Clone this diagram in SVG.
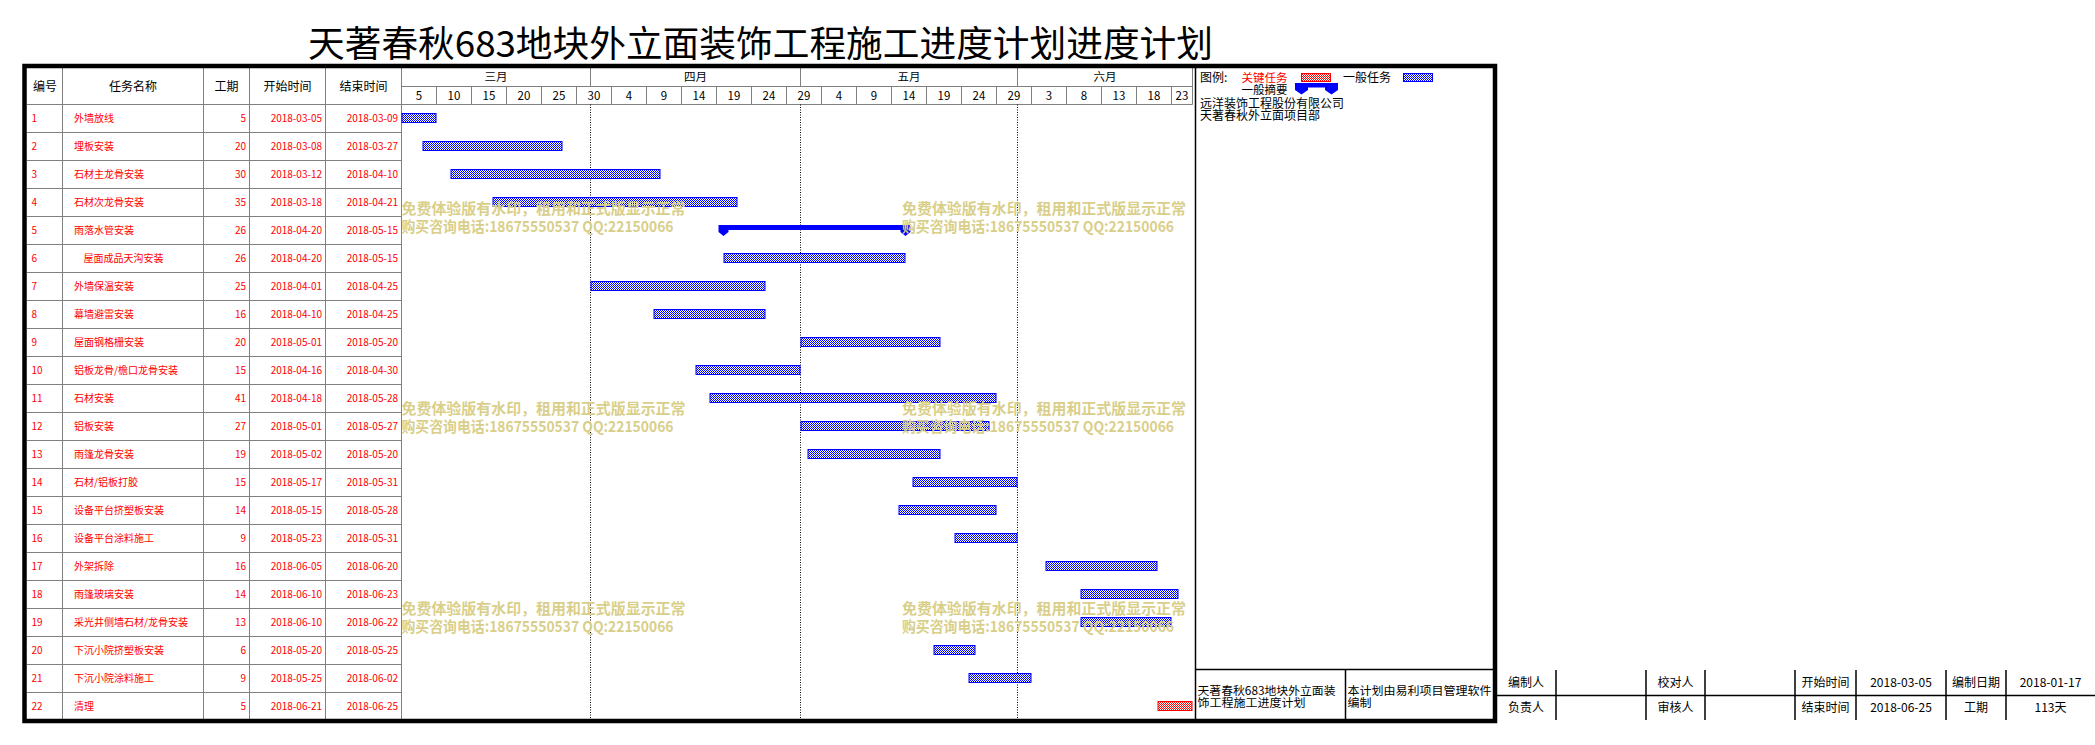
<svg xmlns="http://www.w3.org/2000/svg" width="2095" height="745" viewBox="0 0 2095 745">
<style>
text{font-family:"Noto Sans CJK SC","Liberation Sans",sans-serif;}
.hd{font-size:12px;fill:#000;text-anchor:middle;}
.sc{font-size:11.5px;fill:#000;text-anchor:middle;}
.r{font-size:10px;fill:#f00;}
.re{font-size:10px;fill:#f00;text-anchor:end;}
.g{stroke:#808080;stroke-width:1;fill:none;}
.k{stroke:#000;stroke-width:1.5;fill:none;}
.dot{stroke:#000;stroke-width:1;stroke-dasharray:1,1.5;fill:none;}
.bar{fill:url(#pb);stroke:#00f;stroke-width:1;}
.crit{fill:url(#pr);stroke:#f00;stroke-width:1;}
.lg{font-size:12px;fill:#000;}
.lg2{font-size:11.5px;fill:#000;}
.wm{font-size:15px;font-weight:bold;fill:#D9CF8A;}
.st{font-size:12px;fill:#000;text-anchor:middle;}
</style>
<defs>
<pattern id="pb" width="2" height="2" patternUnits="userSpaceOnUse"><rect width="2" height="2" fill="#fff"/><rect width="1" height="1" fill="#00f"/><rect x="1" y="1" width="1" height="1" fill="#00f"/></pattern>
<pattern id="pr" width="2" height="2" patternUnits="userSpaceOnUse"><rect width="2" height="2" fill="#fff"/><rect width="1" height="1" fill="#f00"/><rect x="1" y="1" width="1" height="1" fill="#f00"/></pattern>
</defs>
<rect width="2095" height="745" fill="#fff"/>

<g id="title"><text x="308" y="57" font-size="36" textLength="905" lengthAdjust="spacingAndGlyphs" fill="#000">天著春秋683地块外立面装饰工程施工进度计划进度计划</text></g>

<g id="grid">
<path class="g" d="M62.5,68V720M203.5,68V720M249.5,68V720M325.5,68V720M401.5,68V720M1192.5,68V104.5"/>
<path class="g" d="M401.5,86.5H1192.5M27,104.5H1192.5"/>
<path class="g" d="M27,132.5H401.5M27,160.5H401.5M27,188.5H401.5M27,216.5H401.5M27,244.5H401.5M27,272.5H401.5M27,300.5H401.5M27,328.5H401.5M27,356.5H401.5M27,384.5H401.5M27,412.5H401.5M27,440.5H401.5M27,468.5H401.5M27,496.5H401.5M27,524.5H401.5M27,552.5H401.5M27,580.5H401.5M27,608.5H401.5M27,636.5H401.5M27,664.5H401.5M27,692.5H401.5M27,719.5H401.5"/>
<path class="g" d="M590.5,68V86.5M800.5,68V86.5M1017.5,68V86.5"/>
<path class="g" d="M436.5,86.5V104.5M471.5,86.5V104.5M506.5,86.5V104.5M541.5,86.5V104.5M576.5,86.5V104.5M611.5,86.5V104.5M646.5,86.5V104.5M681.5,86.5V104.5M716.5,86.5V104.5M751.5,86.5V104.5M786.5,86.5V104.5M821.5,86.5V104.5M856.5,86.5V104.5M891.5,86.5V104.5M926.5,86.5V104.5M961.5,86.5V104.5M996.5,86.5V104.5M1031.5,86.5V104.5M1066.5,86.5V104.5M1101.5,86.5V104.5M1136.5,86.5V104.5M1171.5,86.5V104.5"/>
<path class="dot" d="M590.5,104.5V719M800.5,104.5V719M1017.5,104.5V719"/>
</g>

<g id="header">
<text class="hd" x="45" y="91">编号</text>
<text class="hd" x="133" y="91">任务名称</text>
<text class="hd" x="226.5" y="91">工期</text>
<text class="hd" x="287.5" y="91">开始时间</text>
<text class="hd" x="363.5" y="91">结束时间</text>
<text class="sc" x="496" y="81">三月</text>
<text class="sc" x="695.5" y="81">四月</text>
<text class="sc" x="909" y="81">五月</text>
<text class="sc" x="1105" y="81">六月</text>
<text class="sc" x="419" y="99.5">5</text>
<text class="sc" x="454" y="99.5">10</text>
<text class="sc" x="489" y="99.5">15</text>
<text class="sc" x="524" y="99.5">20</text>
<text class="sc" x="559" y="99.5">25</text>
<text class="sc" x="594" y="99.5">30</text>
<text class="sc" x="629" y="99.5">4</text>
<text class="sc" x="664" y="99.5">9</text>
<text class="sc" x="699" y="99.5">14</text>
<text class="sc" x="734" y="99.5">19</text>
<text class="sc" x="769" y="99.5">24</text>
<text class="sc" x="804" y="99.5">29</text>
<text class="sc" x="839" y="99.5">4</text>
<text class="sc" x="874" y="99.5">9</text>
<text class="sc" x="909" y="99.5">14</text>
<text class="sc" x="944" y="99.5">19</text>
<text class="sc" x="979" y="99.5">24</text>
<text class="sc" x="1014" y="99.5">29</text>
<text class="sc" x="1049" y="99.5">3</text>
<text class="sc" x="1084" y="99.5">8</text>
<text class="sc" x="1119" y="99.5">13</text>
<text class="sc" x="1154" y="99.5">18</text>
<text class="sc" x="1182" y="99.5">23</text>
</g>

<g id="row-1"><text class="r" x="31.5" y="122">1</text><text class="r" x="74" y="122">外墙放线</text><text class="re" x="246" y="122">5</text><text class="re" x="322" y="122">2018-03-05</text><text class="re" x="398" y="122">2018-03-09</text><rect class="bar" x="402" y="113.5" width="34" height="9"/></g>
<g id="row-2"><text class="r" x="31.5" y="150">2</text><text class="r" x="74" y="150">埋板安装</text><text class="re" x="246" y="150">20</text><text class="re" x="322" y="150">2018-03-08</text><text class="re" x="398" y="150">2018-03-27</text><rect class="bar" x="423" y="141.5" width="139" height="9"/></g>
<g id="row-3"><text class="r" x="31.5" y="178">3</text><text class="r" x="74" y="178">石材主龙骨安装</text><text class="re" x="246" y="178">30</text><text class="re" x="322" y="178">2018-03-12</text><text class="re" x="398" y="178">2018-04-10</text><rect class="bar" x="451" y="169.5" width="209" height="9"/></g>
<g id="row-4"><text class="r" x="31.5" y="206">4</text><text class="r" x="74" y="206">石材次龙骨安装</text><text class="re" x="246" y="206">35</text><text class="re" x="322" y="206">2018-03-18</text><text class="re" x="398" y="206">2018-04-21</text><rect class="bar" x="493" y="197.5" width="244" height="9"/></g>
<g id="row-5"><text class="r" x="31.5" y="234">5</text><text class="r" x="74" y="234">雨落水管安装</text><text class="re" x="246" y="234">26</text><text class="re" x="322" y="234">2018-04-20</text><text class="re" x="398" y="234">2018-05-15</text><path fill="#00f" d="M718.5,225H910.5V232L905.5,236L900.5,232V230H728.5V232L723.5,236L718.5,232Z"/></g>
<g id="row-6"><text class="r" x="31.5" y="262">6</text><text class="r" x="83.5" y="262">屋面成品天沟安装</text><text class="re" x="246" y="262">26</text><text class="re" x="322" y="262">2018-04-20</text><text class="re" x="398" y="262">2018-05-15</text><rect class="bar" x="724" y="253.5" width="181" height="9"/></g>
<g id="row-7"><text class="r" x="31.5" y="290">7</text><text class="r" x="74" y="290">外墙保温安装</text><text class="re" x="246" y="290">25</text><text class="re" x="322" y="290">2018-04-01</text><text class="re" x="398" y="290">2018-04-25</text><rect class="bar" x="591" y="281.5" width="174" height="9"/></g>
<g id="row-8"><text class="r" x="31.5" y="318">8</text><text class="r" x="74" y="318">幕墙避雷安装</text><text class="re" x="246" y="318">16</text><text class="re" x="322" y="318">2018-04-10</text><text class="re" x="398" y="318">2018-04-25</text><rect class="bar" x="654" y="309.5" width="111" height="9"/></g>
<g id="row-9"><text class="r" x="31.5" y="346">9</text><text class="r" x="74" y="346">屋面钢格栅安装</text><text class="re" x="246" y="346">20</text><text class="re" x="322" y="346">2018-05-01</text><text class="re" x="398" y="346">2018-05-20</text><rect class="bar" x="801" y="337.5" width="139" height="9"/></g>
<g id="row-10"><text class="r" x="31.5" y="374">10</text><text class="r" x="74" y="374">铝板龙骨/檐口龙骨安装</text><text class="re" x="246" y="374">15</text><text class="re" x="322" y="374">2018-04-16</text><text class="re" x="398" y="374">2018-04-30</text><rect class="bar" x="696" y="365.5" width="104" height="9"/></g>
<g id="row-11"><text class="r" x="31.5" y="402">11</text><text class="r" x="74" y="402">石材安装</text><text class="re" x="246" y="402">41</text><text class="re" x="322" y="402">2018-04-18</text><text class="re" x="398" y="402">2018-05-28</text><rect class="bar" x="710" y="393.5" width="286" height="9"/></g>
<g id="row-12"><text class="r" x="31.5" y="430">12</text><text class="r" x="74" y="430">铝板安装</text><text class="re" x="246" y="430">27</text><text class="re" x="322" y="430">2018-05-01</text><text class="re" x="398" y="430">2018-05-27</text><rect class="bar" x="801" y="421.5" width="188" height="9"/></g>
<g id="row-13"><text class="r" x="31.5" y="458">13</text><text class="r" x="74" y="458">雨篷龙骨安装</text><text class="re" x="246" y="458">19</text><text class="re" x="322" y="458">2018-05-02</text><text class="re" x="398" y="458">2018-05-20</text><rect class="bar" x="808" y="449.5" width="132" height="9"/></g>
<g id="row-14"><text class="r" x="31.5" y="486">14</text><text class="r" x="74" y="486">石材/铝板打胶</text><text class="re" x="246" y="486">15</text><text class="re" x="322" y="486">2018-05-17</text><text class="re" x="398" y="486">2018-05-31</text><rect class="bar" x="913" y="477.5" width="104" height="9"/></g>
<g id="row-15"><text class="r" x="31.5" y="514">15</text><text class="r" x="74" y="514">设备平台挤塑板安装</text><text class="re" x="246" y="514">14</text><text class="re" x="322" y="514">2018-05-15</text><text class="re" x="398" y="514">2018-05-28</text><rect class="bar" x="899" y="505.5" width="97" height="9"/></g>
<g id="row-16"><text class="r" x="31.5" y="542">16</text><text class="r" x="74" y="542">设备平台涂料施工</text><text class="re" x="246" y="542">9</text><text class="re" x="322" y="542">2018-05-23</text><text class="re" x="398" y="542">2018-05-31</text><rect class="bar" x="955" y="533.5" width="62" height="9"/></g>
<g id="row-17"><text class="r" x="31.5" y="570">17</text><text class="r" x="74" y="570">外架拆除</text><text class="re" x="246" y="570">16</text><text class="re" x="322" y="570">2018-06-05</text><text class="re" x="398" y="570">2018-06-20</text><rect class="bar" x="1046" y="561.5" width="111" height="9"/></g>
<g id="row-18"><text class="r" x="31.5" y="598">18</text><text class="r" x="74" y="598">雨篷玻璃安装</text><text class="re" x="246" y="598">14</text><text class="re" x="322" y="598">2018-06-10</text><text class="re" x="398" y="598">2018-06-23</text><rect class="bar" x="1081" y="589.5" width="97" height="9"/></g>
<g id="row-19"><text class="r" x="31.5" y="626">19</text><text class="r" x="74" y="626">采光井侧墙石材/龙骨安装</text><text class="re" x="246" y="626">13</text><text class="re" x="322" y="626">2018-06-10</text><text class="re" x="398" y="626">2018-06-22</text><rect class="bar" x="1081" y="617.5" width="90" height="9"/></g>
<g id="row-20"><text class="r" x="31.5" y="654">20</text><text class="r" x="74" y="654">下沉小院挤塑板安装</text><text class="re" x="246" y="654">6</text><text class="re" x="322" y="654">2018-05-20</text><text class="re" x="398" y="654">2018-05-25</text><rect class="bar" x="934" y="645.5" width="41" height="9"/></g>
<g id="row-21"><text class="r" x="31.5" y="682">21</text><text class="r" x="74" y="682">下沉小院涂料施工</text><text class="re" x="246" y="682">9</text><text class="re" x="322" y="682">2018-05-25</text><text class="re" x="398" y="682">2018-06-02</text><rect class="bar" x="969" y="673.5" width="62" height="9"/></g>
<g id="row-22"><text class="r" x="31.5" y="710">22</text><text class="r" x="74" y="710">清理</text><text class="re" x="246" y="710">5</text><text class="re" x="322" y="710">2018-06-21</text><text class="re" x="398" y="710">2018-06-25</text><rect class="crit" x="1158" y="701.5" width="34" height="9"/></g>

<g id="watermarks">
<text class="wm" x="401.5" y="214" textLength="284" lengthAdjust="spacingAndGlyphs">免费体验版有水印，租用和正式版显示正常</text>
<text class="wm" x="401.5" y="231.5" textLength="272" lengthAdjust="spacingAndGlyphs">购买咨询电话:18675550537 QQ:22150066</text>
<text class="wm" x="902" y="214" textLength="284" lengthAdjust="spacingAndGlyphs">免费体验版有水印，租用和正式版显示正常</text>
<text class="wm" x="902" y="231.5" textLength="272" lengthAdjust="spacingAndGlyphs">购买咨询电话:18675550537 QQ:22150066</text>
<text class="wm" x="401.5" y="414" textLength="284" lengthAdjust="spacingAndGlyphs">免费体验版有水印，租用和正式版显示正常</text>
<text class="wm" x="401.5" y="431.5" textLength="272" lengthAdjust="spacingAndGlyphs">购买咨询电话:18675550537 QQ:22150066</text>
<text class="wm" x="902" y="414" textLength="284" lengthAdjust="spacingAndGlyphs">免费体验版有水印，租用和正式版显示正常</text>
<text class="wm" x="902" y="431.5" textLength="272" lengthAdjust="spacingAndGlyphs">购买咨询电话:18675550537 QQ:22150066</text>
<text class="wm" x="401.5" y="614" textLength="284" lengthAdjust="spacingAndGlyphs">免费体验版有水印，租用和正式版显示正常</text>
<text class="wm" x="401.5" y="631.5" textLength="272" lengthAdjust="spacingAndGlyphs">购买咨询电话:18675550537 QQ:22150066</text>
<text class="wm" x="902" y="614" textLength="284" lengthAdjust="spacingAndGlyphs">免费体验版有水印，租用和正式版显示正常</text>
<text class="wm" x="902" y="631.5" textLength="272" lengthAdjust="spacingAndGlyphs">购买咨询电话:18675550537 QQ:22150066</text>
</g>

<g id="legend">
<path class="k" d="M1195.5,68V720M1195.5,669.5H1493M1345.5,669.5V720"/>
<text class="lg" x="1200" y="82">图例:</text>
<text class="lg2" x="1241.5" y="81.5" style="fill:#f00">关键任务</text>
<rect class="crit" x="1301.5" y="73.5" width="29" height="8"/>
<text class="lg" x="1343" y="82">一般任务</text>
<rect class="bar" x="1403.5" y="73.5" width="29" height="8"/>
<text class="lg2" x="1241.5" y="93.5">一般摘要</text>
<path fill="#00f" d="M1295,83H1338V90L1331.5,94.5L1325,90V87.5H1308V90L1301.5,94.5L1295,90Z"/>
<text class="lg" x="1200" y="107.5">远洋装饰工程股份有限公司</text>
<text class="lg" x="1200" y="119.5">天著春秋外立面项目部</text>
</g>

<g id="info-box">
<text class="lg2" x="1197.5" y="694.5" textLength="138" lengthAdjust="spacingAndGlyphs">天著春秋683地块外立面装</text>
<text class="lg2" x="1197.5" y="706.5" textLength="108" lengthAdjust="spacingAndGlyphs">饰工程施工进度计划</text>
<text class="lg2" x="1347.5" y="694.5" textLength="144" lengthAdjust="spacingAndGlyphs">本计划由易利项目管理软件</text>
<text class="lg2" x="1347.5" y="706.5" textLength="24" lengthAdjust="spacingAndGlyphs">编制</text>
</g>

<g id="frame"><rect x="24.5" y="66" width="1470.5" height="655" fill="none" stroke="#000" stroke-width="4.5"/></g>

<g id="sign-table">
<path class="k" d="M1497,695.5H2095M1556,670V720M1646,670V720M1705,670V720M1795,670V720M1856,670V720M1946,670V720M2006,670V720"/>
<text class="st" x="1526" y="687">编制人</text>
<text class="st" x="1526" y="712">负责人</text>
<text class="st" x="1675.5" y="687">校对人</text>
<text class="st" x="1675.5" y="712">审核人</text>
<text class="st" x="1825.5" y="687">开始时间</text>
<text class="st" x="1825.5" y="712">结束时间</text>
<text class="st" x="1901" y="687">2018-03-05</text>
<text class="st" x="1901" y="712">2018-06-25</text>
<text class="st" x="1976" y="687">编制日期</text>
<text class="st" x="1976" y="712">工期</text>
<text class="st" x="2050.5" y="687">2018-01-17</text>
<text class="st" x="2050.5" y="712">113天</text>
</g>
</svg>
